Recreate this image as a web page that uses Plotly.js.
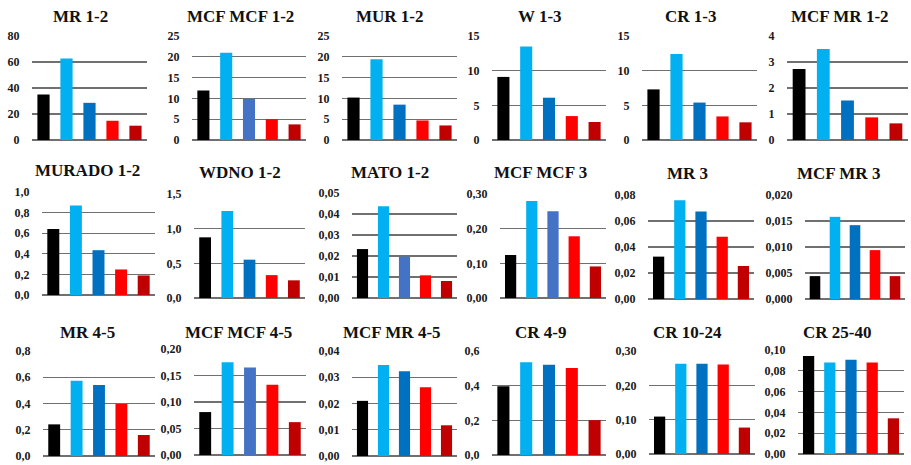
<!DOCTYPE html>
<html>
<head>
<meta charset="utf-8">
<script src="https://cdn.plot.ly/plotly-3.0.1.min.js"></script>
<style>html,body{margin:0;padding:0;background:#fff;}#chart{width:911px;height:465px;}</style>
</head>
<body>
<div id="chart"></div>
<script>
// ---- data ----
const groups = ["G1", "G2", "G3", "G4", "G5"];
const titles = [
  "MR 1-2", "MCF MCF 1-2", "MUR 1-2", "W 1-3", "CR 1-3", "MCF MR 1-2",
  "MURADO 1-2", "WDNO 1-2", "MATO 1-2", "MCF MCF 3", "MR 3", "MCF MR 3",
  "MR 4-5", "MCF MCF 4-5", "MCF MR 4-5", "CR 4-9", "CR 10-24", "CR 25-40"
];
const mr12      = [35.0, 62.6, 28.6, 14.8, 11.0];
const mcfmcf12  = [11.9, 21.0, 9.9, 5.0, 3.75];
const mur12     = [10.2, 19.4, 8.5, 4.7, 3.5];
const w13       = [9.1, 13.5, 6.1, 3.45, 2.6];
const cr13      = [7.3, 12.4, 5.4, 3.4, 2.55];
const mcfmr12   = [2.73, 3.5, 1.52, 0.87, 0.64];
const murado12  = [0.64, 0.87, 0.435, 0.248, 0.19];
const wdno12    = [0.875, 1.255, 0.553, 0.33, 0.255];
const mato12    = [0.0233, 0.0437, 0.0197, 0.0108, 0.0081];
const mcfmcf3   = [0.124, 0.28, 0.25, 0.178, 0.091];
const mr3       = [0.0326, 0.0759, 0.0674, 0.0479, 0.0254];
const mcfmr3    = [0.0044, 0.0158, 0.0142, 0.0094, 0.0044];
const mr45      = [0.241, 0.574, 0.541, 0.396, 0.16];
const mcfmcf45  = [0.081, 0.175, 0.165, 0.1325, 0.062];
const mcfmr45   = [0.021, 0.0347, 0.0323, 0.0262, 0.0117];
const cr49      = [0.397, 0.535, 0.521, 0.502, 0.201];
const cr1024    = [0.109, 0.263, 0.263, 0.261, 0.077];
const cr2540    = [0.0942, 0.0881, 0.0907, 0.0881, 0.0343];
const series = [mr12, mcfmcf12, mur12, w13, cr13, mcfmr12,
  murado12, wdno12, mato12, mcfmcf3, mr3, mcfmr3,
  mr45, mcfmcf45, mcfmr45, cr49, cr1024, cr2540];
// axis max, tick step, tick format
const axisMax  = [80, 25, 25, 15, 15, 4, 1.0, 1.5, 0.05, 0.30, 0.08, 0.020, 0.8, 0.20, 0.04, 0.6, 0.30, 0.10];
const axisStep = [20, 5, 5, 5, 5, 1, 0.2, 0.5, 0.01, 0.10, 0.02, 0.005, 0.2, 0.05, 0.01, 0.2, 0.10, 0.02];
const axisFmt  = ["d","d","d","d","d","d",".1f",".1f",".2f",".2f",".2f",".3f",".1f",".2f",".2f",".1f",".2f",".2f"];

// ---- styling / geometry ----
const W = 911, H = 465;
const blueA = "#0070C0", blueB = "#4472C4";
const altBlue = new Set([1, 8, 9, 13]);
function colorsFor(i) {
  return ["#000000", "#00B0F0", altBlue.has(i) ? blueB : blueA, "#FF0000", "#C00000"];
}
// panel plot areas in pixels: [x0, x1, yTop, yZero]
const geom = [
  [32,147,36,140],[192,306,36,140],[342,457,36,140],[492,606,36,140],[642,757,36,140],[787,908,36,140],
  [42,155,192,295],[194,305,194,298],[352,457,193,298],[500,606,194,298],[648,754,195,299],[805,905,195,299],
  [43,155,351,456],[194,306,349,455],[352,457,351,456],[492,606,351,455],[649,755,351,454],[798,904,350,454]
];
const titlePos = [
  [80,16],[240,16],[390,16],[540,16],[690,16],[840,16],
  [87,170],[240,172],[390,172],[540,172],[687,173],[838,173],
  [87,332],[238,332],[392,332],[540,332],[687,332],[837,332]
];

const data = [];
const layout = {
  width: W, height: H,
  margin: {l: 0, r: 0, t: 0, b: 0},
  paper_bgcolor: "#fff", plot_bgcolor: "#fff",
  showlegend: false,
  separators: ", ",
  bargap: 0.47,
  font: {family: "Liberation Serif", size: 12, color: "#222"},
  annotations: []
};
const SERIF = "Liberation Serif";

series.forEach((vals, i) => {
  const n = i + 1;
  const xa = n === 1 ? "x" : "x" + n;
  const ya = n === 1 ? "y" : "y" + n;
  data.push({
    type: "bar", x: groups, y: vals, xaxis: xa, yaxis: ya,
    marker: {color: colorsFor(i), line: {width: 0}},
    hoverinfo: "y"
  });
  const g = geom[i];
  const xk = n === 1 ? "xaxis" : "xaxis" + n;
  const yk = n === 1 ? "yaxis" : "yaxis" + n;
  layout[xk] = {
    domain: [g[0] / W, g[1] / W], anchor: ya,
    showticklabels: false, ticks: "", showgrid: false, zeroline: false, showline: false,
    range: [-0.5, 4.5], fixedrange: true
  };
  layout[yk] = {
    domain: [1 - g[3] / H, 1 - g[2] / H], anchor: xa,
    range: [0, axisMax[i]], dtick: axisStep[i], tick0: 0, tickformat: axisFmt[i],
    showgrid: true, gridcolor: "#707070", gridwidth: 1.2,
    zeroline: true, zerolinecolor: "#707070", zerolinewidth: 1.2,
    showline: false, ticks: "outside", ticklen: 9, tickcolor: "rgba(0,0,0,0)",
    tickfont: {family: SERIF, size: 12, color: "#1a1a1a", weight: "bold"},
    fixedrange: true
  };
  layout.annotations.push({
    text: titles[i], xref: "paper", yref: "paper",
    x: titlePos[i][0] / W, y: 1 - titlePos[i][1] / H,
    xanchor: "center", yanchor: "middle", showarrow: false,
    font: {family: SERIF, size: 17, color: "#111", weight: "bold"}
  });
});

Plotly.newPlot("chart", data, layout, {displayModeBar: false, staticPlot: true});
</script>
</body>
</html>
